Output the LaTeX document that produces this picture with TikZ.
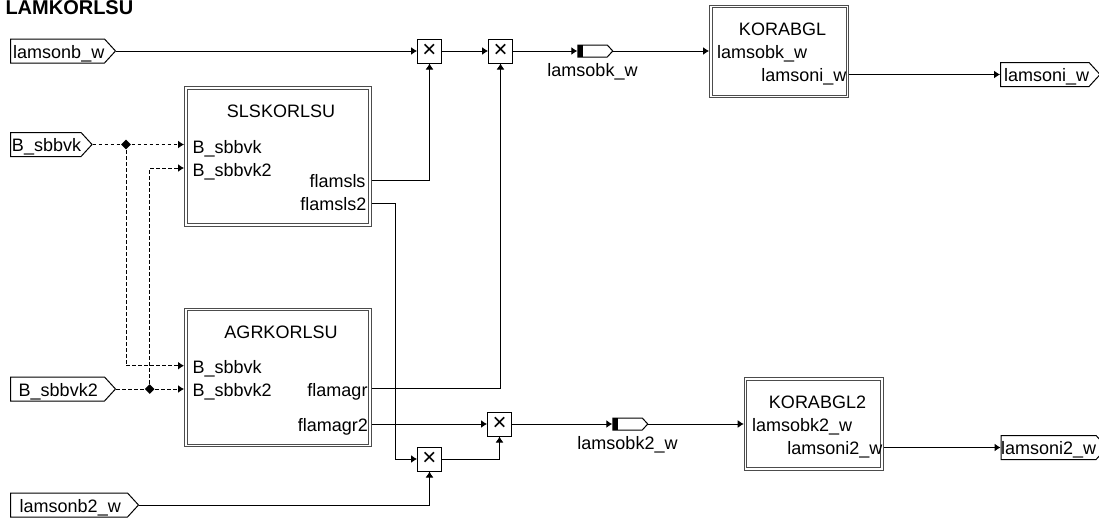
\documentclass[tikz,border=0pt]{standalone}
\usepackage{fontspec}
\setmainfont{Liberation Sans}
\usetikzlibrary{arrows.meta,positioning,shapes.geometric,shapes.symbols}
\newcommand{\sigtxt}[2][2.5pt]{\makebox[\width][l]{\kern#1 #2}}

\begin{document}
\begin{tikzpicture}[x=1pt, y=-1pt, >={Latex[length=6pt,width=8pt]},
  font=\fontsize{18}{20}\selectfont, line width=1pt, node distance=46pt,
  sig/.style={signal, signal to=east, signal pointer angle=95, draw, fill=white,
              inner sep=0pt, minimum height=24pt, anchor=west,
              text height=14.6pt, text depth=0pt},
  tag/.style={signal, signal to=east, signal pointer angle=95, draw, fill=white,
              inner sep=0pt, minimum height=12pt, minimum width=35pt},
  tagb/.style={rectangle, fill=black, inner sep=0pt, minimum width=5.5pt,
              minimum height=12pt, anchor=west},
  blk/.style={rectangle, draw=black!70, line width=1.1pt, double, double distance=1.3pt,
              fill=white, anchor=north west, inner sep=0pt, outer sep=0pt},
  mul/.style={rectangle, draw, fill=white, minimum size=24pt, inner sep=0pt,
              font=\fontsize{24}{24}\selectfont},
  jun/.style={diamond, fill=black, inner sep=0pt, minimum size=10pt},
  pl/.style={anchor=base west, inner sep=0pt},
  pr/.style={anchor=base east, inner sep=0pt},
  ttl/.style={anchor=base, inner sep=0pt},
  dsh/.style={dash pattern=on 3.5pt off 2.5pt}]
  \useasboundingbox (0,0) rectangle (1099,522);
  \node[anchor=base west, inner sep=0pt, font=\fontsize{20}{22}\selectfont\bfseries] (title) at (5,14.5) {LAMKORLSU};

  \node[sig, minimum width=105pt] (lb) at (10,51) {\sigtxt{lamsonb\_w}};
  \node[sig, minimum width=81pt] (bs) at (10,144.5) {\sigtxt[1.5pt]{B\_sbbvk}};
  \node[sig, minimum width=105pt] (bs2) at (10,389) {\sigtxt[1.5pt]{B\_sbbvk2}};
  \node[sig, minimum width=128pt] (lb2) at (10,505) {\sigtxt{lamsonb2\_w}};
  \node[sig, minimum width=99pt] (lo) at (1000,74.5) {\sigtxt[3.5pt]{lamsoni\_w}};
  \node[sig, minimum width=99pt] (lo2) at (1000.5,447.5) {lamsoni2\_w};

  \node[blk, minimum width=184pt, minimum height=137pt] (sls) at (186,88) {};
  \node[blk, minimum width=184pt, minimum height=136pt] (agr) at (186,309.5) {};
  \node[blk, minimum width=136.5pt, minimum height=90pt] (kor) at (711,6.5) {};
  \node[blk, minimum width=136.5pt, minimum height=90pt] (kor2) at (745.5,379) {};

  \node[ttl] (slst) at (281,117) {SLSKORLSU};
  \node[pl] (slsa) at (192,153) {B\_sbbvk};
  \node[pl] (slsb) at (192,176) {B\_sbbvk2};
  \node[pr] (slsc) at (366,187.5) {flamsls};
  \node[pr] (slsd) at (367,210) {flamsls2};
  \node[ttl] (agrt) at (281,338) {AGRKORLSU};
  \node[pl] (agra) at (192,373.5) {B\_sbbvk};
  \node[pl] (agrb) at (192,396.5) {B\_sbbvk2};
  \node[pr] (agrc) at (368,396) {flamagr};
  \node[pr] (agrd) at (368.5,431) {flamagr2};
  \node[ttl] (kort) at (782.5,35) {KORABGL};
  \node[pl] (kora) at (716.5,58) {lamsobk\_w};
  \node[pr] (korb) at (847,81.5) {lamsoni\_w};
  \node[ttl] (kor2t) at (817.5,408) {KORABGL2};
  \node[pl] (kor2a) at (751.5,431) {lamsobk2\_w};
  \node[pr] (kor2b) at (883,454.5) {lamsoni2\_w};

  \node[mul] (m1) at (429.5,51) {×};
  \node[mul, right=of m1] (m2) {×};
  \node[mul] (m3) at (499.5,424) {×};
  \node[mul] (m4) at (429.5,459) {×};

  \node[tag] (t1) at (592.5,51) {};
  \node[tag] (t2) at (627.5,424) {};
  \node[tagb] (t1b) at (t1.west) {};
  \node[tagb] (t2b) at (t2.west) {};
  \node[inner sep=0pt, below=5pt of t1] (t1l) {lamsobk\_w};
  \node[inner sep=0pt, below=5pt of t2] (t2l) {lamsobk2\_w};

  \node[jun] (j1) at (126,144.5) {};
  \node[jun] (j2) at (149.7,389) {};

  \coordinate (slsi1) at (184,144.5);
  \coordinate (slsi2) at (184,168);
  \coordinate (agri1) at (184,365.7);
  \coordinate (agri2) at (184,389);
  \coordinate (slso1) at (371.5,180);
  \coordinate (slso2) at (371.5,203);
  \coordinate (agro1) at (371.5,388.5);
  \coordinate (agro2) at (371.5,424);
  \coordinate (kori) at (709,51);
  \coordinate (koro) at (849,74.5);
  \coordinate (kor2i) at (743.7,424);
  \coordinate (kor2o) at (884,447.5);

  \draw[dsh] (bs.east) -- (j1);
  \draw[dsh, ->] (j1) -- (slsi1);
  \draw[dsh, ->] (j1) |- (agri1);
  \draw[dsh] (bs2.east) -- (j2);
  \draw[dsh, ->] (j2) -- (agri2);
  \draw[dsh, ->] (j2) |- (slsi2);
  \draw[->] (lb.east) -- (m1);
  \draw[->] (m1) -- (m2);
  \draw[->] (m2) -- (t1.west);
  \draw[->] (t1.east) -- (kori);
  \draw[->] (koro) -- (lo.west);
  \draw[->] (slso1) -| (m1);
  \draw[->] (slso2) -- ++(23.5,0) |- (m4);
  \draw[->] (agro1) -| (m2);
  \draw[->] (agro2) -- (m3);
  \draw[->] (m4) -| (m3);
  \draw[->] (lb2.east) -| (m4);
  \draw[->] (m3) -- (t2.west);
  \draw[->] (t2.east) -- (kor2i);
  \draw[->] (kor2o) -- (lo2.west);
\end{tikzpicture}
\end{document}
